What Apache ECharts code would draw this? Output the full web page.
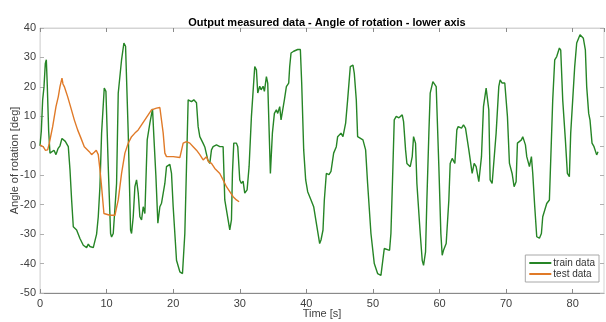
<!DOCTYPE html>
<html>
<head>
<meta charset="utf-8">
<title>Angle of rotation - lower axis</title>
<script src="https://cdn.jsdelivr.net/npm/echarts@6.0.0/dist/echarts.min.js"></script>
<style>
    html, body { margin: 0; padding: 0; background: #fff; }
    #chart { width: 606px; height: 322px; }
</style>
</head>
<body>
<div id="chart"></div>
<script>
// train data (green) - time [s] / angle [deg]
var trainT = [0, 0.2, 0.4, 0.6, 0.8, 0.95, 1.1, 1.3, 1.5, 1.8, 2.1, 2.4, 2.7, 3.0, 3.3, 3.5, 3.8, 4.0, 4.25, 4.5,
    4.75, 5.0, 5.5, 6.0, 6.5, 7.0, 7.25, 7.5, 8.0, 8.25, 8.5, 8.75, 9.0, 9.25, 9.65, 9.9, 10.25, 10.6, 10.75, 11.0,
    11.5, 11.75, 12.25, 12.6, 12.85, 13.25, 13.6, 13.75, 14.0, 14.25, 14.5, 14.75, 15.0, 15.25, 15.5, 15.75, 16.1, 16.5, 16.9, 17.1,
    17.4, 17.7, 18.0, 18.25, 18.5, 18.75, 19.0, 19.5, 19.75, 20.0, 20.5, 21.0, 21.4, 21.75, 22.0, 22.25, 22.5, 22.75, 23.1, 23.5,
    23.75, 24.0, 24.25, 24.5, 24.75, 25.2, 25.5, 25.75, 26.0, 26.5, 27.0, 27.5, 27.75, 28.0, 28.25, 28.5, 28.75, 28.9, 29.1, 29.5,
    29.7, 30.0, 30.25, 30.5, 30.75, 31.1, 31.4, 31.75, 32.25, 32.5, 32.7, 33.0, 33.2, 33.5, 33.7, 34.0, 34.2, 34.6, 34.9, 35.2,
    35.5, 35.7, 36.0, 36.2, 36.7, 37.0, 37.35, 37.5, 37.7, 38.1, 38.7, 39.1, 39.3, 39.6, 39.9, 40.2, 40.5, 40.7, 41.1, 41.5,
    42.0, 42.2, 42.5, 42.7, 43.0, 43.4, 43.7, 44.1, 44.5, 44.7, 45.2, 45.5, 45.9, 46.2, 46.6, 47.0, 47.2, 47.5, 47.7, 48.0,
    48.5, 48.9, 49.2, 49.7, 50.2, 50.7, 51.2, 51.5, 51.7, 52.0, 52.5, 52.7, 53.0, 53.2, 53.5, 53.9, 54.4, 54.6, 54.9, 55.1,
    55.6, 55.9, 56.1, 56.4, 56.6, 57.1, 57.4, 57.6, 57.9, 58.1, 58.4, 58.6, 59.0, 59.3, 59.5, 59.9, 60.2, 60.4, 60.6, 61.0,
    61.4, 61.6, 61.9, 62.3, 62.6, 62.8, 63.3, 63.6, 63.9, 64.4, 64.9, 65.2, 65.5, 65.9, 66.3, 66.6, 67.0, 67.3, 67.4, 67.6,
    67.9, 68.2, 68.5, 68.9, 69.1, 69.4, 69.8, 70.2, 70.5, 70.9, 71.2, 71.5, 71.7, 72.0, 72.3, 72.5, 72.9, 73.1, 73.5, 73.8,
    74.0, 74.3, 74.6, 75.0, 75.3, 75.5, 75.6, 76.1, 76.5, 76.7, 77.0, 77.3, 77.6, 78.0, 78.2, 78.5, 78.9, 79.2, 79.5, 79.7,
    80.0, 80.3, 80.6, 81.1, 81.6, 81.9, 82.1, 82.4, 82.6, 82.9, 83.2, 83.6, 83.8];
var trainV = [0, 5, 15.6, 20, 28, 29.2, 20, 5, -2.5, -3, -1.5, -3, -1, 0, 2.5, 3.1, 1.5, 0.9, -0.3, -8,
    -18.4, -27.5, -28.6, -31.5, -33.8, -34.6, -33.4, -34.2, -34.6, -34, -30, -24.1, -13.9, 4.3, 19.6, 18.5, -7.1, -29.8, -31, -29.8,
    -12.8, 17.9, 29.2, 34.9, 33.8, 4.3, -28.6, -29.8, -24.1, -13.9, -11.6, -16, -24.1, -25.2, -20.7, -23, 2, 7.7, 12.5, 3.1,
    -10, -26.3, -20.7, -19.5, -19.5, -12.8, -7.1, -6.3, -9.4, -20.7, -38.9, -42.8, -43.4, -29.8, -7.1, 15.6, 16.2, 15, 15.6, 14.6,
    6.5, 3.1, 3.6, 0.8, -0.4, -4.8, -6, -1.4, -0.3, 0.3, -0.3, -0.3, -18.4, -21.8, -25.2, -28.6, -25.2, -9.4, 0.9, 0.9,
    -0.3, -11.6, -12.8, -12, -16.1, -15, -7.1, 9.9, 26.9, 25.8, 17.9, 20.2, 19, 20.2, 18.5, 23.5, 21.3, -9.4, 4.3, 11,
    12.2, 11, 13.3, 8.8, 15.6, 20.1, 21.3, 26.9, 31.5, 32.1, 32.7, 32.7, 21.3, -1.4, -11.6, -15.6, -16.1, -18.4, -20.7, -26.3,
    -33.2, -32, -28.6, -18.4, -9.4, -9.8, -8.7, -2.5, -0.3, 3.1, 4.3, 3.1, 7.7, 15.6, 26.9, 27.4, 24.6, 15.6, 3.1, 2.5,
    2, -1.4, -12.8, -29.8, -40, -43.4, -44, -44.5, -34.9, -34.3, -35.5, -29.8, -7.1, 8.8, 10, 9.5, 10.5, 8.2, -1.4, -6,
    -7.1, -3.7, 3.1, 0.8, -12.8, -29.8, -38.9, -40.6, -36, -18.4, 4.3, 17.9, 21.8, 22.4, 20.1, -7.1, -29.8, -37.2, -35.5, -33.2,
    -18.4, -6, -4.3, -6, 5.4, 6.5, 6, 7.1, 6, -1.4, -9.4, -6, -7.1, -12.2, -3.7, 13.3, 19.6, 19.6, 12.2, -11.6,
    -12.8, -12.8, 4.3, 20.1, 22.4, 21.3, 21.3, 9.9, -6, -9.4, -13.9, -12.2, 0.9, 1.4, 2, 3.1, 0.3, -3.7, -7.1, -3.7,
    -9.4, -20.7, -30.9, -31.4, -29.8, -24.1, -24.7, -19.6, -18.4, -4.8, 15.6, 29.2, 30.3, 33.2, 32.5, 15.6, 2, -9.4, -10.5, 4.3,
    15.6, 26.9, 34.9, 37.7, 36.5, 32.6, 20.1, 11, 8.7, 0.9, -0.3, -3.1, -2];

// test data (orange)
var testT = [0, 0.5, 0.8, 1.15, 1.4, 1.9, 2.4, 2.75, 3.0, 3.3, 3.45, 3.65, 4.15, 4.65, 5.15, 5.65, 6.15, 6.65, 7.4, 7.75,
    8.15, 8.45, 8.75, 9.0, 9.25, 9.6, 9.9, 10.5, 11.25, 11.5, 11.75, 12.25, 12.75, 13.25, 13.75, 14.25, 14.75, 15.25, 15.75, 16.25,
    16.75, 17.5, 18.0, 18.25, 18.5, 18.75, 19.0, 20.0, 21.0, 21.25, 21.5, 22.0, 22.5, 23.0, 23.5, 24.0, 24.5, 25.0, 25.3, 25.75,
    26.25, 27.0, 27.5, 28.0, 28.5, 29.0, 29.5, 29.9];
var testV = [0.3, -0.4, -1.5, -1.4, 0.9, 6.5, 13.3, 16.7, 20.1, 23, 21, 20.1, 16.7, 12.8, 8.8, 5.4, 2.6, -0.3, -2, -3,
    -2.2, -1.5, -3, -8, -13.9, -23, -23.6, -23.6, -23.6, -23.4, -18.4, -9.4, -2.5, 0.9, 3.1, 4.3, 5.4, 7.1, 8.8, 10.5,
    12.2, 12.8, 13, 12.7, 4.3, -2.5, -3.7, -3.7, -4, -3.5, 0.9, 1.4, 0.9, -0.3, -1.5, -3, -4.8, -3.7, -5.4, -6,
    -7.7, -9.4, -11.6, -13.9, -15.6, -17.3, -18.4, -19];

// axis ticks
var xTicks = [0, 10, 20, 30, 40, 50, 60, 70, 80];
var yTicks = [-50, -40, -30, -20, -10, 0, 10, 20, 30, 40];

function pairs(t, v){
    return t.map(function(x, i){
        return [x, v[i]];
    });
}

var fontName = 'Liberation Sans, Arial, sans-serif';
var myChart = echarts.init(document.getElementById('chart'));

var option = {
    animation: false,
    backgroundColor: '#fff',
    title: {
        text: 'Output measured data - Angle of rotation - lower axis',
        left: 322,
        textAlign: 'center',
        top: 12,
        textStyle: {
            fontFamily: fontName,
            fontSize: 11,
            fontWeight: 'bold',
            color: '#000'
        }
    },
    grid: {
        left: 40,
        right: 2,
        top: 28,
        bottom: 29,
        outerBoundsMode: 'none',
        containLabel: false,
        show: true,
        borderColor: '#d4d4d4',
        borderWidth: 1
    },
    legend: {
        right: 7,
        bottom: 40,
        orient: 'vertical',
        backgroundColor: '#fff',
        borderColor: '#a8a8a8',
        borderWidth: 1,
        borderRadius: 0,
        padding: [3, 4, 3, 4],
        itemGap: 1,
        itemWidth: 22,
        itemHeight: 2,
        icon: 'rect',
        textStyle: {
            fontFamily: fontName,
            fontSize: 10,
            color: '#333',
            padding: [0, 0, 0, -3]
        },
        data: ['train data', 'test data']
    },
    xAxis: [{
        type: 'value',
        min: 0,
        max: 84.7,
        interval: 10,
        name: 'Time [s]',
        nameLocation: 'middle',
        nameGap: 15,
        nameMoveOverlap: false,
        nameTextStyle: { fontFamily: fontName, fontSize: 11, color: '#404040' },
        axisLine: { show: true, onZero: false, lineStyle: { color: '#8a8a8a', width: 1 } },
        axisTick: { show: true, inside: true, length: 4, lineStyle: { color: '#8a8a8a' } },
        axisLabel: {
            margin: 5,
            fontFamily: fontName,
            fontSize: 11,
            color: '#404040',
            showMaxLabel: false,
            formatter: function(value){
                return xTicks.indexOf(value) >= 0 ? String(value) : '';
            }
        },
        splitLine: { show: false }
    }, {
        type: 'value',
        position: 'top',
        min: 0,
        max: 84.7,
        interval: 10,
        axisLine: { show: true, onZero: false, lineStyle: { color: '#d4d4d4' } },
        axisTick: { show: true, inside: true, length: 4, lineStyle: { color: '#8a8a8a' } },
        axisLabel: { show: false },
        splitLine: { show: false }
    }],
    yAxis: [{
        type: 'value',
        min: -50,
        max: 40,
        interval: 10,
        name: 'Angle of rotation [deg]',
        nameLocation: 'middle',
        nameGap: 20,
        nameMoveOverlap: false,
        nameTextStyle: { fontFamily: fontName, fontSize: 11, color: '#404040' },
        axisLine: { show: true, onZero: false, lineStyle: { color: '#e0e0e0' } },
        axisTick: { show: true, inside: true, length: 4, lineStyle: { color: '#b0b0b0' } },
        axisLabel: {
            margin: 4,
            fontFamily: fontName,
            fontSize: 11,
            color: '#404040',
            formatter: function(value){
                return yTicks.indexOf(value) >= 0 ? String(value) : '';
            }
        },
        splitLine: { show: false }
    }, {
        type: 'value',
        position: 'right',
        min: -50,
        max: 40,
        interval: 10,
        axisLine: { show: false, onZero: false },
        axisTick: { show: true, inside: true, length: 4, lineStyle: { color: '#b0b0b0' } },
        axisLabel: { show: false },
        splitLine: { show: false }
    }],
    series: [{
        name: 'train data',
        type: 'line',
        data: pairs(trainT, trainV),
        showSymbol: false,
        color: '#268526',
        lineStyle: { color: '#268526', width: 1.4 },
        z: 2
    }, {
        name: 'test data',
        type: 'line',
        data: pairs(testT, testV),
        showSymbol: false,
        color: '#e07a28',
        lineStyle: { color: '#e07a28', width: 1.4 },
        z: 3
    }]
};

myChart.setOption(option);
window.onresize = function(){
    myChart.resize();
};
</script>
</body>
</html>
